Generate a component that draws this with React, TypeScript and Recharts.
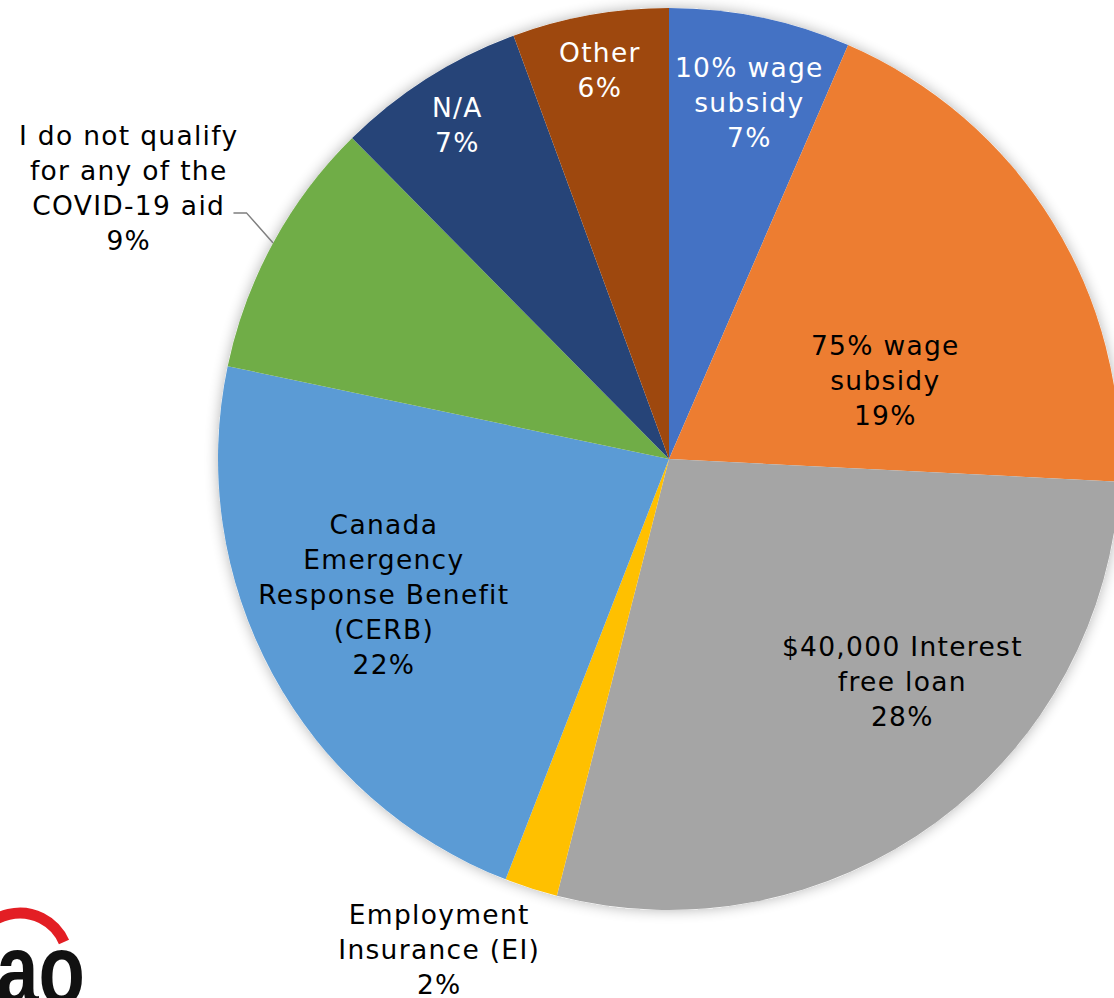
import React from 'react';
import { PieChart, Pie, Cell } from 'recharts';

const categories = [
  '10% wage\nsubsidy',
  '75% wage\nsubsidy',
  '$40,000 Interest\nfree loan',
  'Employment\nInsurance (EI)',
  'Canada\nEmergency\nResponse Benefit\n(CERB)',
  'I do not qualify\nfor any of the\nCOVID-19 aid',
  'N/A',
  'Other',
];
const shares = [6.5, 19.3, 28.2, 1.9, 22.4, 9.3, 6.8, 5.6];
const colours = ['#4472C4', '#ED7D31', '#A5A5A5', '#FFC000', '#5B9BD5', '#70AD47', '#264478', '#9E480E'];
const textColours = ['#fff', '#000', '#000', '#000', '#000', '#000', '#fff', '#fff'];
// label placement: radius fraction, clockwise angle shift (deg)
const labelPlace: [number, number][] = [
  [0.81, 1], [0.51, 12], [0.715, -10], [1.2, 7.3], [0.7, 3], [1.34, -2], [0.876, 0], [0.876, 0],
];

const data = categories.map((name, i) => ({ name, value: shares[i] }));
const RAD = Math.PI / 180;
const FONT = '"DejaVu Sans", Verdana, sans-serif';

const renderLabel = (p: any) => {
  const { cx, cy, midAngle, outerRadius, index, value } = p;
  const [f, shift] = labelPlace[index];
  const a = (midAngle - shift) * RAD;
  const x = cx + outerRadius * f * Math.cos(-a);
  const y = cy + outerRadius * f * Math.sin(-a);
  const lines = [...categories[index].split('\n'), `${Math.round(value)}%`];
  const lh = 35;
  const top = y - ((lines.length - 1) * lh) / 2;
  return (
    <g key={`lbl-${index}`}>
      {lines.map((t, k) => (
        <text key={k} x={x} y={top + k * lh} textAnchor="middle" dominantBaseline="central"
          fill={textColours[index]} fontSize={26.5} letterSpacing={1.3} fontFamily={FONT}>{t}</text>
      ))}
    </g>
  );
};

const renderLine = (p: any) => {
  const { cx, cy, midAngle, outerRadius, index } = p;
  if (index !== 5) return <g key={`ln-${index}`} />;
  const a = -midAngle * RAD;
  const sx = cx + outerRadius * Math.cos(a);
  const sy = cy + outerRadius * Math.sin(a);
  const a2 = -(midAngle - 1.6) * RAD;
  const ex = cx + (outerRadius + 38) * Math.cos(a2);
  const ey = cy + (outerRadius + 38) * Math.sin(a2);
  return <path key={`ln-${index}`} d={`M${sx},${sy}L${ex},${ey}L${ex - 13},${ey}`} stroke="#7f7f7f" strokeWidth={1.5} fill="none" />;
};

const App: React.FC = () => (
  <div style={{ position: 'absolute', left: 0, top: 0, width: 1114, height: 998, background: '#fff', overflow: 'hidden' }}>
    <svg width={0} height={0} style={{ position: 'absolute' }}>
      <defs>
        <filter id="pieShadow" x="-20%" y="-20%" width="140%" height="140%">
          <feGaussianBlur in="SourceAlpha" stdDeviation="7" />
          <feComponentTransfer><feFuncA type="linear" slope="0.3" /></feComponentTransfer>
          <feMerge><feMergeNode /><feMergeNode in="SourceGraphic" /></feMerge>
        </filter>
      </defs>
    </svg>
    <PieChart width={1114} height={998} margin={{ top: 0, right: 0, bottom: 0, left: 0 }}>
      <Pie data={[{ value: 1 }]} dataKey="value" cx={669} cy={459} outerRadius={451} startAngle={90} endAngle={-270}
        stroke="none" isAnimationActive={false}>
        <Cell fill="#fff" filter="url(#pieShadow)" />
      </Pie>
      <Pie data={data} dataKey="value" cx={669} cy={459} outerRadius={451} startAngle={90} endAngle={-270}
        stroke="none" isAnimationActive={false} label={renderLabel} labelLine={renderLine}>
        {data.map((d, i) => <Cell key={`cell-${d.name}`} fill={colours[i]} />)}
      </Pie>
    </PieChart>
    <svg width={120} height={100} style={{ position: 'absolute', left: 0, top: 898 }}>
      <path d="M-28,66 A48,48 0 0 1 64,44" stroke="#e31e24" strokeWidth={11} fill="none" />
      <text x={-5} y={106} fontSize={100} fontWeight="bold" fontFamily='"Liberation Sans", Arial, sans-serif'
        fill="#111" transform="scale(0.76,1)">ao</text>
    </svg>
  </div>
);

export default App;
